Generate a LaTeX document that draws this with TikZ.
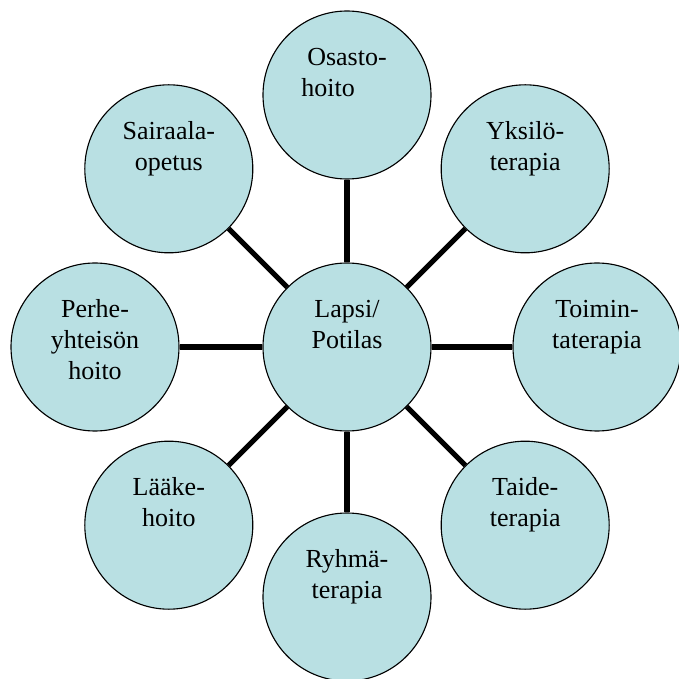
\documentclass[tikz,border=0pt]{standalone}
\usepackage{fontspec}
\setmainfont{Liberation Serif}
\usepackage{tikz}
\usetikzlibrary{calc,positioning}
\definecolor{discfill}{RGB}{185,224,227}

\begin{document}
\begin{tikzpicture}[
	disc/.style={circle,draw=black,line width=0.8pt,fill=discfill,minimum size=4.2cm,inner sep=0pt,
		font=\fontsize{18.5}{22}\selectfont,
		execute at begin node={\begin{minipage}[c][73pt][t]{3cm}\centering\strut},
		execute at end node={\end{minipage}}},
	spoke/.style={line width=3.6pt,black}]
			\useasboundingbox (-8.675,-8.3) rectangle (8.3,8.675);
			\node[disc] (lapsi) at (0,0) {Lapsi/\\Potilas};
			\node[disc] (osasto) at (90:6.3) {Osasto-\\\hspace*{-27pt}hoito};
			\node[disc] (yksilo) at (45:6.3) {Yksilö-\\terapia};
			\node[disc] (toimin) at (0:6.25) {Toimin-\\taterapia};
			\node[disc] (taide) at (-45:6.3) {Taide-\\terapia};
			\node[disc] (ryhma) at (-90:6.25) {Ryhmä-\\terapia};
			\node[disc] (laake) at (-135:6.3) {Lääke-\\hoito};
			\node[disc] (perhe) at (180:6.3) {Perhe-\\yhteisön\\hoito};
			\node[disc] (sairaala) at (135:6.3) {Sairaala-\\opetus};
			\foreach \n in {osasto,yksilo,toimin,taide,ryhma,laake,perhe,sairaala}
				\draw[spoke] (lapsi) -- (\n);
		\end{tikzpicture}
\end{document}
